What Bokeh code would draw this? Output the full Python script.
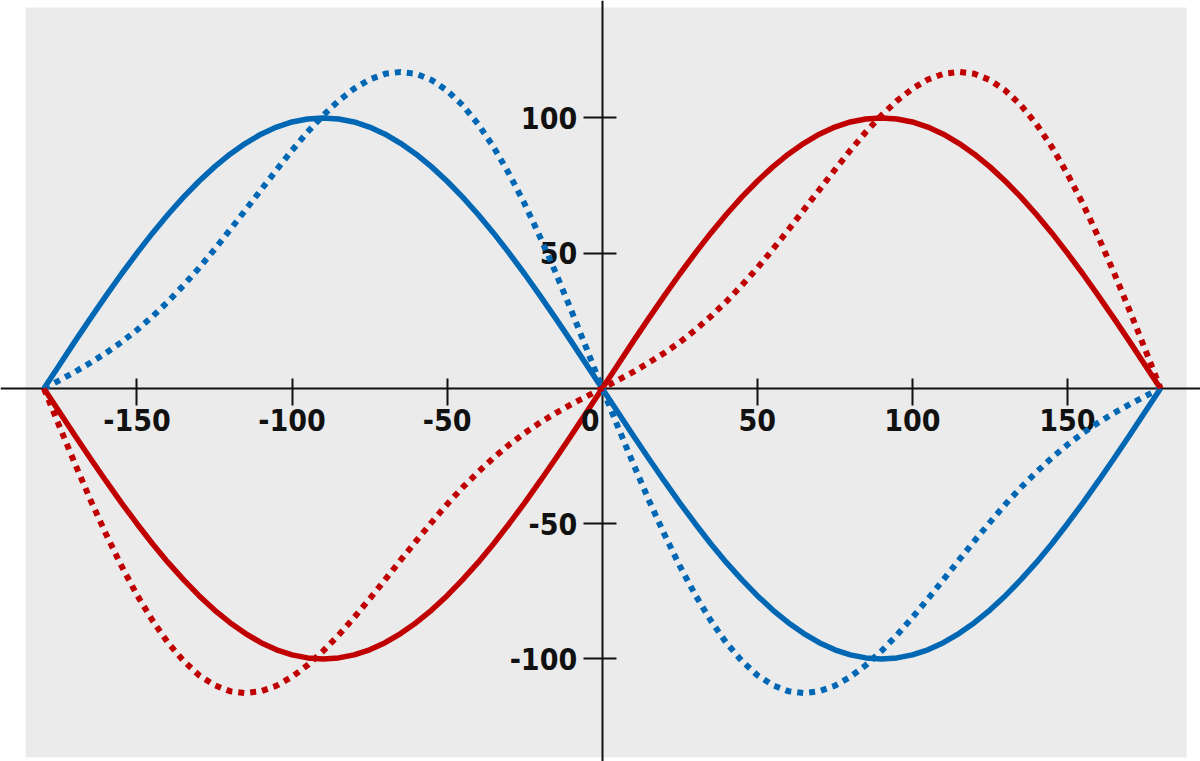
from bokeh.plotting import figure
from bokeh.models import Range1d, FixedTicker, BoxAnnotation, Label, ColumnDataSource
from bokeh.embed import file_html
from bokeh.resources import INLINE

# ---- data ----
angle = [-180, -175, -170, -165, -160, -155, -150, -145, -140, -135, -130, -125,
         -120, -115, -110, -105, -100, -95, -90, -85, -80, -75, -70, -65,
         -60, -55, -50, -45, -40, -35, -30, -25, -20, -15, -10, -5,
         0, 5, 10, 15, 20, 25, 30, 35, 40, 45, 50, 55,
         60, 65, 70, 75, 80, 85, 90, 95, 100, 105, 110, 115,
         120, 125, 130, 135, 140, 145, 150, 155, 160, 165, 170, 175, 180]

red_solid = [0, -8.7, -17.4, -25.9, -34.2, -42.3, -50.0, -57.4, -64.3, -70.7, -76.6, -81.9,
             -86.6, -90.6, -94.0, -96.6, -98.5, -99.6, -100.0, -99.6, -98.5, -96.6, -94.0, -90.6,
             -86.6, -81.9, -76.6, -70.7, -64.3, -57.4, -50.0, -42.3, -34.2, -25.9, -17.4, -8.7,
             0, 8.7, 17.4, 25.9, 34.2, 42.3, 50.0, 57.4, 64.3, 70.7, 76.6, 81.9,
             86.6, 90.6, 94.0, 96.6, 98.5, 99.6, 100.0, 99.6, 98.5, 96.6, 94.0, 90.6,
             86.6, 81.9, 76.6, 70.7, 64.3, 57.4, 50.0, 42.3, 34.2, 25.9, 17.4, 8.7, 0]

blue_solid = [0, 8.7, 17.4, 25.9, 34.2, 42.3, 50.0, 57.4, 64.3, 70.7, 76.6, 81.9,
              86.6, 90.6, 94.0, 96.6, 98.5, 99.6, 100.0, 99.6, 98.5, 96.6, 94.0, 90.6,
              86.6, 81.9, 76.6, 70.7, 64.3, 57.4, 50.0, 42.3, 34.2, 25.9, 17.4, 8.7,
              0, -8.7, -17.4, -25.9, -34.2, -42.3, -50.0, -57.4, -64.3, -70.7, -76.6, -81.9,
              -86.6, -90.6, -94.0, -96.6, -98.5, -99.6, -100.0, -99.6, -98.5, -96.6, -94.0, -90.6,
              -86.6, -81.9, -76.6, -70.7, -64.3, -57.4, -50.0, -42.3, -34.2, -25.9, -17.4, -8.7, 0]

red_dotted = [0, -14.0, -27.8, -41.2, -53.8, -65.6, -76.3, -85.8, -94.0, -100.7, -106.0, -109.7,
              -111.9, -112.6, -111.9, -109.9, -106.6, -102.3, -97.1, -91.2, -84.7, -77.8, -70.7, -63.5,
              -56.4, -49.5, -42.8, -36.6, -30.9, -25.6, -20.8, -16.5, -12.6, -9.1, -5.9, -2.9,
              0, 3.0, 6.1, 9.5, 13.1, 17.1, 21.6, 26.6, 32.1, 38.1, 44.5, 51.4,
              58.6, 66.0, 73.4, 80.8, 88.0, 94.8, 100.9, 106.3, 110.8, 114.2, 116.3, 117.0,
              116.3, 114.0, 110.1, 104.7, 97.7, 89.2, 79.3, 68.2, 55.9, 42.8, 28.9, 14.6, 0]

blue_dotted = [0, 3.0, 6.1, 9.5, 13.1, 17.1, 21.6, 26.6, 32.1, 38.1, 44.5, 51.4,
               58.6, 66.0, 73.4, 80.8, 88.0, 94.8, 100.9, 106.3, 110.8, 114.2, 116.3, 117.0,
               116.3, 114.0, 110.1, 104.7, 97.7, 89.2, 79.3, 68.2, 55.9, 42.8, 28.9, 14.6,
               0, -14.0, -27.8, -41.2, -53.8, -65.6, -76.3, -85.8, -94.0, -100.7, -106.0, -109.7,
               -111.9, -112.6, -111.9, -109.9, -106.6, -102.3, -97.1, -91.2, -84.7, -77.8, -70.7, -63.5,
               -56.4, -49.5, -42.8, -36.6, -30.9, -25.6, -20.8, -16.5, -12.6, -9.1, -5.9, -2.9, 0]

x_ticks = [-150, -100, -50, 50, 100, 150]
x_tick_labels = ["-150", "-100", "-50", "50", "100", "150"]
y_ticks = [-100, -50, 50, 100]
y_tick_labels = ["-100", "-50", "50", "100"]

RED = "#c00000"
BLUE = "#0067b4"
GRAY = "#ebebeb"
FONT = "'DejaVu Sans Condensed', 'Roboto Condensed', 'Liberation Sans Narrow', Roboto, sans-serif"

src = ColumnDataSource(dict(x=angle, rs=red_solid, bs=blue_solid, rd=red_dotted, bd=blue_dotted))

p = figure(width=1200, height=761, output_backend="svg", toolbar_location=None,
           x_range=Range1d(-194.0, 192.9), y_range=Range1d(-137.9, 143.4),
           min_border=0, min_border_left=0, min_border_right=0,
           min_border_top=0, min_border_bottom=0)
p.outline_line_color = None
p.background_fill_color = "white"
p.border_fill_color = "white"
p.grid.visible = False

bg = BoxAnnotation(left=-185.9, right=188.4, top=140.8, bottom=-136.4,
                   fill_color=GRAY, fill_alpha=1.0, line_color=None, level="image")
p.add_layout(bg)

p.line("x", "bs", source=src, line_color=BLUE, line_width=5.5)
p.line("x", "rs", source=src, line_color=RED, line_width=5.5)
p.line("x", "bd", source=src, line_color=BLUE, line_width=6, line_dash="6 6")
p.line("x", "rd", source=src, line_color=RED, line_width=6, line_dash="6 6")

for ax in (p.xaxis[0], p.yaxis[0]):
    ax.fixed_location = 0
    ax.level = "underlay"
    ax.axis_line_color = "#111111"
    ax.axis_line_width = 2
    ax.major_tick_line_color = "#111111"
    ax.major_tick_line_width = 2
    ax.minor_tick_line_color = None
    ax.major_label_text_font = FONT
    ax.major_label_text_font_style = "bold"
    ax.major_label_text_font_size = "30px"
    ax.major_label_text_color = "#111111"

p.xaxis.ticker = FixedTicker(ticks=x_ticks)
p.yaxis.ticker = FixedTicker(ticks=y_ticks)
p.xaxis.major_label_overrides = dict(zip(x_ticks, x_tick_labels))
p.yaxis.major_label_overrides = dict(zip(y_ticks, y_tick_labels))
p.xaxis.major_tick_in = 10
p.xaxis.major_tick_out = 17
p.yaxis.major_tick_in = 14
p.yaxis.major_tick_out = 19
p.xaxis.major_label_standoff = 4
p.yaxis.major_label_standoff = 6

zero = Label(x=0, y=0, text="0", x_offset=-12, y_offset=-21,
             text_align="center", text_baseline="top",
             text_font=FONT, text_font_style="bold", text_font_size="30px",
             text_color="#111111")
p.add_layout(zero)

open("out.html", "w").write(file_html(p, INLINE))
